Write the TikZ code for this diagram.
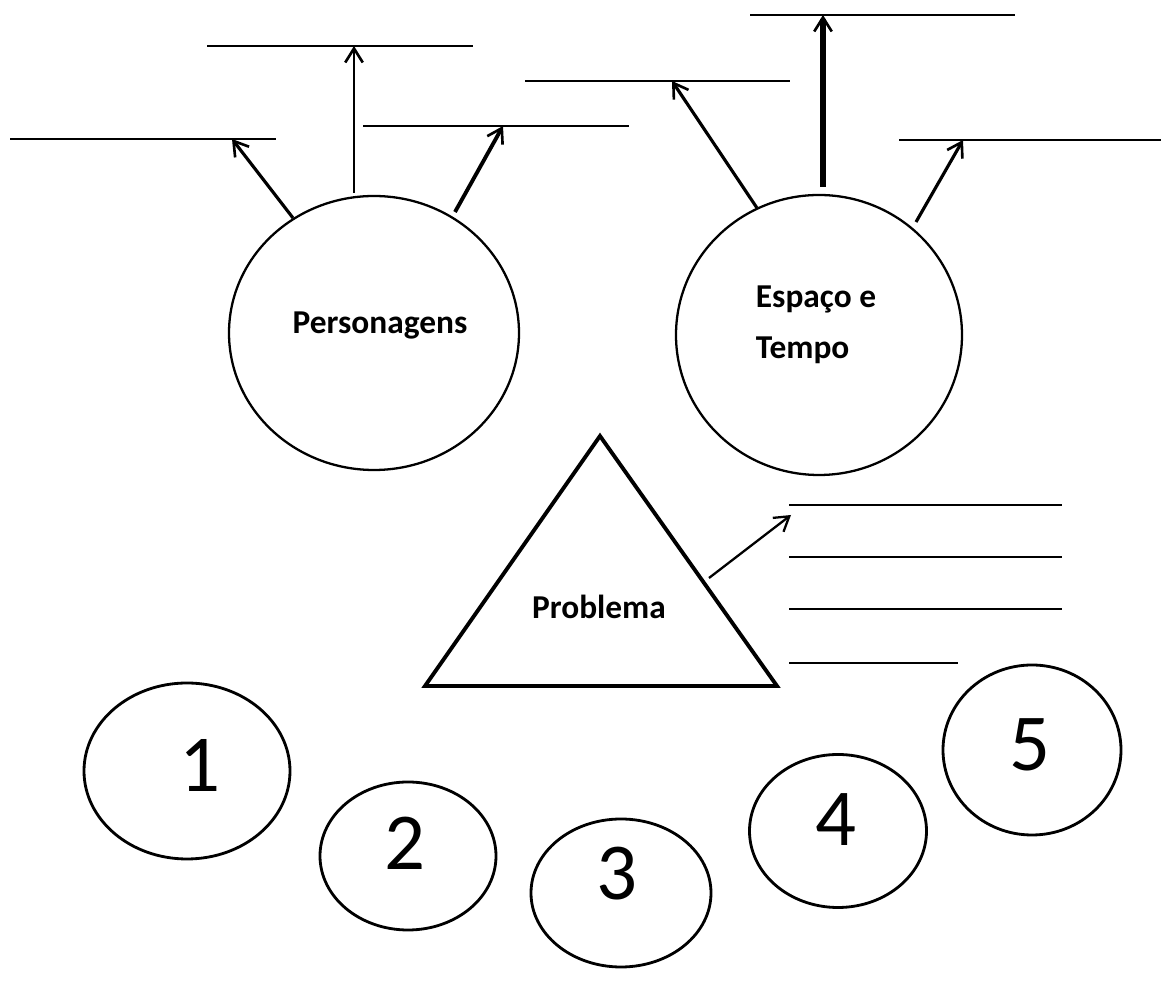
\documentclass[tikz,border=0pt]{standalone}
\usepackage{fontspec}
\setmainfont{Carlito}
\usetikzlibrary{arrows.meta,shapes.geometric}
\begin{document}
\begin{tikzpicture}[x=0.02cm,y=-0.02cm,
  blank/.style={line width=1.5pt},
  thinblank/.style={line width=0.8pt},
  bubble/.style={draw,ellipse,line width=1.3pt,inner sep=0pt},
  lab/.style={font=\fontsize{19}{29}\selectfont\bfseries},
  num/.style={font=\fontsize{46}{46}\selectfont},
  arr/.style={line width=1.8pt,-{Straight Barb[length=8pt,width=10pt,line width=1.5pt]}},
  tarr/.style={line width=1.3pt,-{Straight Barb[length=8pt,width=10pt,line width=1.3pt]}}]
\useasboundingbox (0,0) rectangle (1161,982);
% main bubbles
\node[bubble,minimum width=290*0.02cm,minimum height=274*0.02cm] (P) at (374,333) {};
\node[lab] (Pt) at (380,326) {Personagens};
\node[bubble,minimum width=286*0.02cm,minimum height=280*0.02cm] (E) at (819,335) {};
\node[lab,align=left] (Et) at (816,325) {Espaço e\\Tempo};
% blank lines for Personagens
\coordinate (l1a) at (10,139); \coordinate (l1b) at (276,139);
\coordinate (l2a) at (207,46); \coordinate (l2b) at (473,46);
\coordinate (l3a) at (363,126); \coordinate (l3b) at (629,126);
\draw[blank] (l1a) -- (l1b);
\draw[blank] (l2a) -- (l2b);
\draw[blank] (l3a) -- (l3b);
\coordinate (t1) at (232,139); \coordinate (t2) at (354,46); \coordinate (t3) at (503,126);
\coordinate (s1) at (293,218); \coordinate (s2) at (354,193); \coordinate (s3) at (455,212);
\draw[arr] (s1) -- (t1);
\draw[arr,line width=1.4pt] (s2) -- (t2);
\draw[arr,line width=2.2pt] (s3) -- (t3);
% blank lines for Espaco
\coordinate (l4a) at (525,81); \coordinate (l4b) at (790,81);
\coordinate (l5a) at (750,15); \coordinate (l5b) at (1015,15);
\coordinate (l6a) at (899,140); \coordinate (l6b) at (1161,140);
\draw[blank] (l4a) -- (l4b);
\draw[blank] (l5a) -- (l5b);
\draw[blank] (l6a) -- (l6b);
\coordinate (t4) at (672,81); \coordinate (t5) at (823,15); \coordinate (t6) at (963,140);
\coordinate (s4) at (757,208); \coordinate (s5) at (823,187); \coordinate (s6) at (916,222);
\draw[arr] (s4) -- (t4);
\draw[arr,line width=3pt] (s5) -- (t5);
\draw[arr] (s6) -- (t6);
% triangle
\coordinate (ta) at (600,436); \coordinate (tl) at (425,686); \coordinate (tr) at (777,686);
\draw[line width=2.2pt,line join=miter] (ta) -- (tr) -- (tl) -- cycle;
\node[lab] (Pr) at (599,607) {Problema};
\coordinate (r1a) at (789,505); \coordinate (r1b) at (1062,505);
\coordinate (r2a) at (789,557); \coordinate (r2b) at (1062,557);
\coordinate (r3a) at (789,609); \coordinate (r3b) at (1062,609);
\coordinate (r4a) at (789,663); \coordinate (r4b) at (958,663);
\draw[thinblank] (r1a) -- (r1b);
\draw[thinblank] (r2a) -- (r2b);
\draw[thinblank] (r3a) -- (r3b);
\draw[thinblank] (r4a) -- (r4b);
\coordinate (ps) at (709,578); \coordinate (pt) at (791,515);
\draw[tarr] (ps) -- (pt);
% numbered circles
\node[bubble,line width=1.6pt,minimum width=206*0.02cm,minimum height=176*0.02cm] (c1) at (187,771) {};
\node[bubble,line width=1.6pt,minimum width=176*0.02cm,minimum height=148*0.02cm] (c2) at (408,856) {};
\node[bubble,line width=1.6pt,minimum width=180*0.02cm,minimum height=148*0.02cm] (c3) at (621,893) {};
\node[bubble,line width=1.6pt,minimum width=177*0.02cm,minimum height=153*0.02cm] (c4) at (838,831) {};
\node[bubble,line width=1.6pt,minimum width=178*0.02cm,minimum height=170*0.02cm] (c5) at (1032,750) {};
\node[num] (n1) at (200,765) {1};
\node[num] (n2) at (405,843) {2};
\node[num] (n3) at (617,874) {3};
\node[num] (n4) at (836,820) {4};
\node[num] (n5) at (1030,745) {5};
\end{tikzpicture}
\end{document}
